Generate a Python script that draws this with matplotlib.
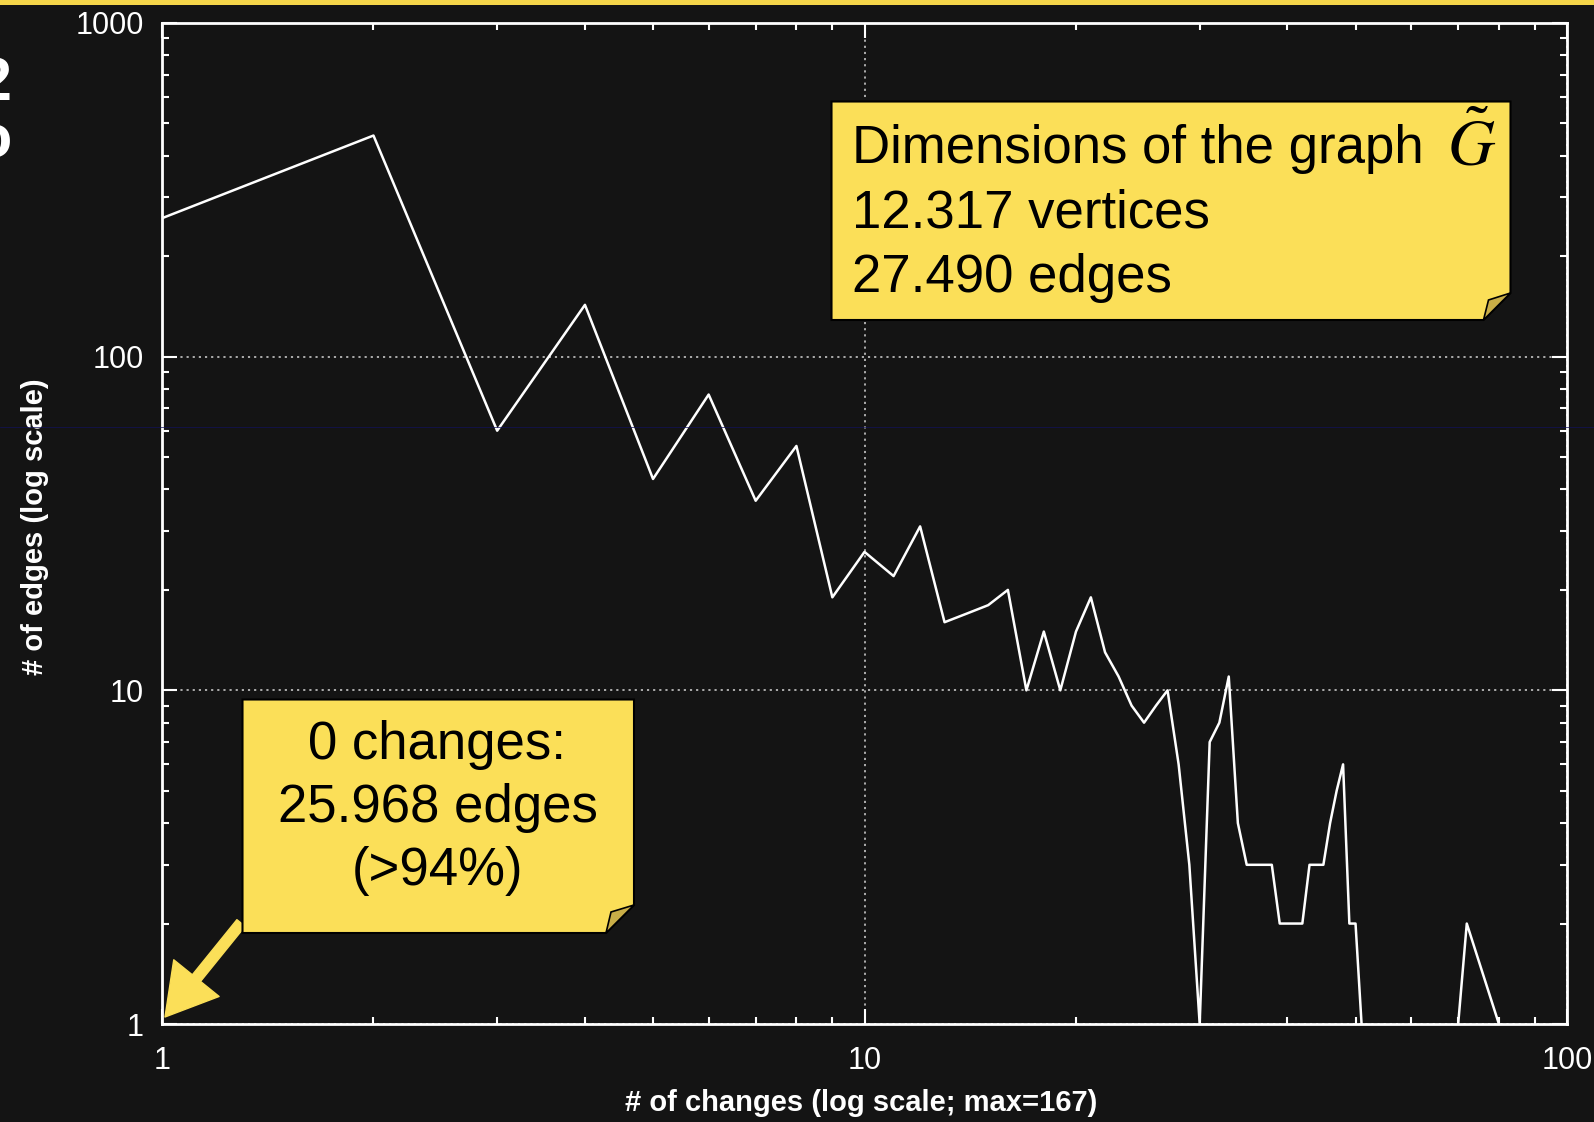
import matplotlib
matplotlib.use('Agg')
import matplotlib.pyplot as plt
import numpy as np
from matplotlib.patches import Polygon, Rectangle
from matplotlib.lines import Line2D
from matplotlib.ticker import NullFormatter

plt.rcParams['font.family'] = ['Liberation Sans', 'DejaVu Sans']
plt.rcParams['mathtext.fontset'] = 'stix'

# number of changes per edge vs how many edges had that many changes
changes = list(range(1, 52)) + [np.nan, 70, 72, 80]
edges = [260, 460, 60, 143, 43, 77, 37, 54, 19, 26,
         22, 31, 16, 17, 18, 20, 10, 15, 10, 15,
         19, 13, 11, 9, 8, 9, 10, 6, 3, 1,
         7, 8, 11, 4, 3, 3, 3, 3, 2, 2,
         2, 2, 3, 3, 3, 4, 5, 6, 2, 2,
         1, np.nan, 1, 2, 1]

yticks = [1, 10, 100, 1000]
xticks = [1, 10, 100]

note_big = ['Dimensions of the graph', '12.317 vertices', '27.490 edges']
note_small = ['0 changes:', '25.968 edges', '(>94%)']

W, H = 1594, 1122
bg = '#141414'
yellow = '#fbdf58'
fold = '#c9ae47'


def fx(x):
    return x / W


def fy(y):
    return 1 - y / H


fig = plt.figure(figsize=(W / 100, H / 100), dpi=100, facecolor=bg)
ax = fig.add_axes([fx(162), fy(1024), (1567 - 162) / W, (1024 - 23) / H])
ax.set_facecolor(bg)

ax.plot(changes, edges, color='white', lw=1.8, zorder=3)

ax.set_xscale('log')
ax.set_yscale('log')
ax.set_xlim(1, 100)
ax.set_ylim(1, 1000)
ax.set_xticks(xticks)
ax.set_xticklabels([str(t) for t in xticks])
ax.set_yticks(yticks)
ax.set_yticklabels([str(t) for t in yticks])
ax.xaxis.set_minor_formatter(NullFormatter())
ax.yaxis.set_minor_formatter(NullFormatter())

ax.grid(which='major', color='#b8b8b8', linestyle=(0, (1.2, 2.2)), lw=1.3)
ax.set_axisbelow(True)

for s in ax.spines.values():
    s.set_color('white')
    s.set_linewidth(2)

ax.tick_params(which='both', direction='in', top=True, right=True,
               colors='white', labelsize=22)
ax.tick_params(which='major', length=11, width=1.5)
ax.tick_params(which='minor', length=5, width=1.5)
ax.tick_params(axis='x', pad=16)
ax.tick_params(axis='y', pad=13)

ax.set_xlabel('# of changes (log scale; max=167)', color='white',
              fontsize=21, fontweight='bold')
ax.set_ylabel('# of edges (log scale)', color='white',
              fontsize=21, fontweight='bold')
ax.xaxis.set_label_coords((861 - 162) / (1567 - 162), -(1103 - 1024) / (1024 - 23))
ax.yaxis.set_label_coords(-(162 - 35) / (1567 - 162), 0.497)
ax.xaxis.label.set_va('center')
ax.yaxis.label.set_va('center')

# yellow strip at the top
fig.patches.append(Rectangle((0, fy(4.5)), 1, 4.5 / H, transform=fig.transFigure,
                             facecolor='#f5d64a', edgecolor='none'))

# thin blue artefact line
fig.add_artist(Line2D([0, 1], [fy(427), fy(427)], color='#12125a', lw=0.5))

# cut-off slide text at the left edge
fig.text(fx(-5), fy(100), '2', color='white', fontsize=44, fontweight='bold',
         ha='center', va='baseline')
fig.text(fx(-6.5), fy(158), 'o', color='white', fontsize=44, fontweight='bold',
         ha='center', va='baseline')


def sticky(l, t, r, b, c):
    body = [(l, t), (r, t), (r, b - c), (r - c, b), (l, b)]
    fig.patches.append(Polygon([(fx(x), fy(y)) for x, y in body], closed=True,
                               transform=fig.transFigure, facecolor=yellow,
                               edgecolor='black', lw=1.5, zorder=4))
    corner = [(r, b - c), (r - c, b), (r - c + 5, b - c + 7)]
    fig.patches.append(Polygon([(fx(x), fy(y)) for x, y in corner], closed=True,
                               transform=fig.transFigure, facecolor=fold,
                               edgecolor='black', lw=1.2, zorder=4))


sticky(831.5, 101.5, 1510.5, 320, 27)
sticky(242.5, 699.5, 634, 933, 28)

for i, line in enumerate(note_big):
    fig.text(fx(852), fy(163 + 64.5 * i), line, fontsize=38, color='black',
             ha='left', va='baseline', zorder=5)
fig.text(fx(1447), fy(166), '$\\tilde{G}$', fontsize=47, color='black',
         ha='left', va='baseline', zorder=5)

for i, line in enumerate(note_small):
    fig.text(fx(437.5), fy(758.5 + 63.5 * i), line, fontsize=38, color='black',
             ha='center', va='baseline', zorder=5)

ax.annotate('', xy=(fx(165), fy(1017)), xycoords='figure fraction',
            xytext=(fx(241), fy(923)), textcoords='figure fraction',
            arrowprops=dict(arrowstyle='simple,head_length=1.8,head_width=2.1,tail_width=0.38',
                            color=yellow, mutation_scale=20, shrinkA=0, shrinkB=0),
            annotation_clip=False, zorder=6)

fig.savefig('out.png', dpi=100, facecolor=bg)
